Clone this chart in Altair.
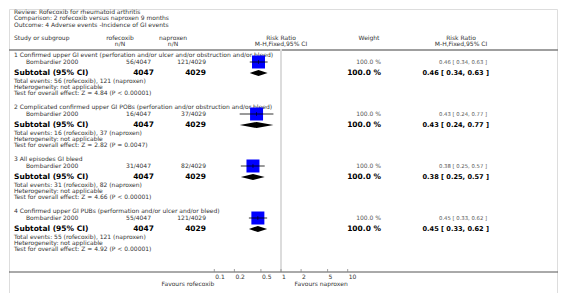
import altair as alt
import pandas as pd

# ---------------- data ----------------
header_lines = [
    "Review:  Rofecoxib for rheumatoid arthritis",
    "Comparison:  2 rofecoxib versus naproxen 9 months",
    "Outcome:  4 Adverse events -Incidence of GI events",
]
group_titles = [
    "1 Confirmed upper GI event (perforation and/or ulcer and/or obstruction and/or bleed)",
    "2 Complicated confirmed upper GI POBs (perforation and/or obstruction and/or bleed)",
    "3 All episodes GI bleed",
    "4 Confirmed upper GI PUBs (performation and/or ulcer and/or bleed)",
]
study_names = ["Bombardier 2000"] * 4
rofe_events = [56, 16, 31, 55]
rofe_total = [4047, 4047, 4047, 4047]
napr_events = [121, 37, 82, 121]
napr_total = [4029, 4029, 4029, 4029]
weights = [100.0, 100.0, 100.0, 100.0]
rr = [0.46, 0.43, 0.38, 0.45]
rr_lo = [0.34, 0.24, 0.25, 0.33]
rr_hi = [0.63, 0.77, 0.57, 0.62]
z_values = ["4.84", "2.82", "4.66", "4.92"]
p_values = ["P < 0.00001", "P = 0.0047", "P < 0.00001", "P < 0.00001"]
tick_values = [0.1, 0.2, 0.5, 1, 2, 5, 10]
tick_labels = ["0.1", "0.2", "0.5", "1", "2", "5", "10"]

# ---------------- layout ----------------
W, H = 550, 285
FONT = "DejaVu Sans"
FS = 6.0
FSB = 7.5
GREY = "#333333"
G0, GSTEP = 46, 52          # first group title row, spacing between groups
OFF = dict(title=0, study=7, sub=18, tot=26, het=32, test=38)
AXIS_Y = 263

def fmt_ci(a, b, c):
    return f"{a:.2f} [ {b:.2f}, {c:.2f} ]"

rows = []
for i in range(4):
    base = G0 + GSTEP * i
    rows.append(dict(
        g=i,
        title=group_titles[i],
        study=study_names[i],
        rofe=f"{rofe_events[i]}/{rofe_total[i]}",
        napr=f"{napr_events[i]}/{napr_total[i]}",
        rofe_n=str(rofe_total[i]),
        napr_n=str(napr_total[i]),
        weight=f"{weights[i]:.1f} %",
        ci=fmt_ci(rr[i], rr_lo[i], rr_hi[i]),
        subtotal="Subtotal (95% CI)",
        tot=f"Total events: {rofe_events[i]} (rofecoxib), {napr_events[i]} (naproxen)",
        het="Heterogeneity: not applicable",
        test=f"Test for overall effect: Z = {z_values[i]} ({p_values[i]})",
        rr=rr[i], lo=rr_lo[i], hi=rr_hi[i],
        **{f"y_{k}": base + v for k, v in OFF.items()},
    ))
df = pd.DataFrame(rows)

dia = []
for r in rows:
    c = r["y_sub"]
    dia += [dict(g=r["g"], x=r["lo"], ya=c, yb=c),
            dict(g=r["g"], x=r["rr"], ya=c - 3, yb=c + 3),
            dict(g=r["g"], x=r["hi"], ya=c, yb=c)]
dia_df = pd.DataFrame(dia)

ticks_df = pd.DataFrame({"t": tick_values, "lab": tick_labels})

xs = alt.Scale(type="log", domain=[0.1, 10], range=[205.3, 338.7])
ys = alt.Scale(domain=[0, H], range=[0, H])

def Y(f):
    return alt.Y(f"{f}:Q", scale=ys, axis=None)

def X(f):
    return alt.X(f"{f}:Q", scale=xs, axis=None)

def ctext(txt, x, y, align="left", size=FS, weight="normal", color=GREY):
    return alt.Chart(df.head(1)).mark_text(
        text=txt, align=align, baseline="middle", font=FONT, fontSize=size,
        fontWeight=weight, color=color
    ).encode(x=alt.value(x), y=alt.value(y))

def coltext(field, x, yfield, align="left", size=FS, weight="normal", color=GREY):
    return alt.Chart(df).mark_text(
        align=align, baseline="middle", font=FONT, fontSize=size,
        fontWeight=weight, color=color
    ).encode(x=alt.value(x), y=Y(yfield), text=f"{field}:N")

layers = []
# title block
for k, t in enumerate(header_lines):
    layers.append(ctext(t, 5, 2.5 + 6.5 * k))
# column headers
HR1, HR2 = 29, 35
layers += [
    ctext("Study or subgroup", 5, HR1),
    ctext("rofecoxib", 111, HR1, "center"),
    ctext("n/N", 111, HR2, "center"),
    ctext("naproxen", 164, HR1, "center"),
    ctext("n/N", 164, HR2, "center"),
    ctext("Risk Ratio", 272, HR1, "center"),
    ctext("M-H,Fixed,95% CI", 272, HR2, "center"),
    ctext("Weight", 360, HR1, "center"),
    ctext("Risk Ratio", 452, HR1, "center"),
    ctext("M-H,Fixed,95% CI", 452, HR2, "center"),
]
# header separator
layers.append(alt.Chart(df.head(1)).mark_rule(color="#7f7f7f", strokeWidth=1.5).encode(
    x=alt.value(0), x2=alt.value(W), y=alt.value(41)))
# null line
layers.append(alt.Chart(pd.DataFrame({"v": [1]})).mark_rule(color="#dcdcdc", strokeWidth=2).encode(
    x=X("v"), y=alt.value(40), y2=alt.value(AXIS_Y)))
# axis line
layers.append(alt.Chart(df.head(1)).mark_rule(color="#555555", strokeWidth=1).encode(
    x=alt.value(0), x2=alt.value(W), y=alt.value(AXIS_Y)))
# ticks and labels
layers.append(alt.Chart(ticks_df).mark_rule(color="#888888", strokeWidth=0.8).encode(
    x=X("t"), y=alt.value(AXIS_Y - 3), y2=alt.value(AXIS_Y)))
layers.append(alt.Chart(ticks_df).mark_text(
    align="left", baseline="middle", dx=1, font=FONT, fontSize=FS, color=GREY
).encode(x=X("t"), y=alt.value(AXIS_Y + 5), text="lab:N"))
layers.append(ctext("Favours rofecoxib", 205.3, AXIS_Y + 12, "right"))
layers.append(ctext("Favours naproxen", 338.7, AXIS_Y + 12, "right"))

# group texts
layers += [
    coltext("title", 5, "y_title"),
    coltext("study", 17, "y_study"),
    coltext("rofe", 142, "y_study", "right"),
    coltext("napr", 197, "y_study", "right"),
    coltext("weight", 372, "y_study", "right", color="#555555"),
    coltext("ci", 478, "y_study", "right", size=5.3, color="#555555"),
    coltext("subtotal", 5, "y_sub", size=FSB, weight="bold", color="#000000"),
    coltext("rofe_n", 145, "y_sub", "right", size=FSB, weight="bold", color="#000000"),
    coltext("napr_n", 197, "y_sub", "right", size=FSB, weight="bold", color="#000000"),
    coltext("weight", 372, "y_sub", "right", size=FSB, weight="bold", color="#000000"),
    coltext("ci", 480, "y_sub", "right", size=6.6, weight="bold", color="#000000"),
    coltext("tot", 5, "y_tot"),
    coltext("het", 5, "y_het"),
    coltext("test", 5, "y_test"),
]

# forest marks
base = alt.Chart(df)
layers.append(base.mark_square(size=169, color="#0000ff", opacity=1).encode(
    x=X("rr"), y=Y("y_study")))
layers.append(base.mark_rule(color="#000000", strokeWidth=0.8).encode(
    x=X("lo"), x2="hi:Q", y=Y("y_study")))
layers.append(base.mark_tick(orient="vertical", size=4, thickness=0.8, color="#000000").encode(
    x=X("rr"), y=Y("y_study")))
layers.append(alt.Chart(dia_df).mark_area(color="#000000", opacity=1).encode(
    x=X("x"), y=Y("ya"), y2="yb:Q", detail="g:N"))

chart = alt.layer(*layers).properties(
    width=W, height=H, padding=0,
    autosize=alt.AutoSizeParams(type="fit", contains="padding"),
).configure_view(stroke=None).configure(background="#ffffff")

chart.save("out.html", embed_options={"renderer": "svg", "actions": False})
